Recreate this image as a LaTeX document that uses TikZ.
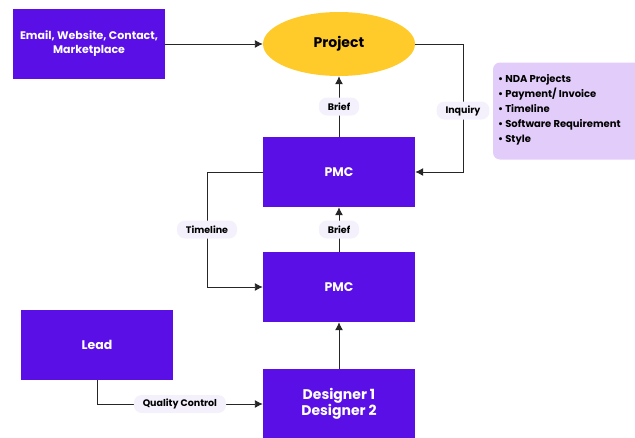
\documentclass[tikz,border=0pt]{standalone}
\usepackage{fontspec}
\setmainfont{Poppins}
\usepackage{tikz}
\usetikzlibrary{calc,arrows.meta,shapes.geometric}
\definecolor{pmcpurple}{HTML}{5A0FE6}
\definecolor{projyellow}{HTML}{FFCB2B}
\definecolor{tagfill}{HTML}{F4F1FD}
\definecolor{notefill}{HTML}{E2CDFA}

\begin{document}
\begin{tikzpicture}[x=1pt,y=-1pt,
    box/.style={rectangle,fill=pmcpurple,text=white,minimum width=152pt,minimum height=70pt,inner sep=0pt,align=center,font=\bfseries\fontsize{12.5}{15}\selectfont},
    tag/.style={rectangle,rounded corners=8pt,fill=tagfill,inner xsep=9pt,inner ysep=0pt,minimum height=18pt,font=\bfseries\fontsize{9.5}{11}\selectfont},
    link/.style={draw=black!85,line width=0.9pt,-{Latex[length=8pt,width=8pt]}}]
\useasboundingbox (0,0) rectangle (635,437);
\node[box,font=\bfseries\fontsize{11}{14}\selectfont](src)at(89,44){Email, Website, Contact,\\Marketplace};
\node[ellipse,fill=projyellow,minimum width=152pt,minimum height=64pt,inner sep=0pt,font=\bfseries\fontsize{14}{16}\selectfont](proj)at(339,44){Project};
\node[box](pmcA)at(339,172){PMC};
\node[box](pmcB)at(339,287){PMC};
\node[box](lead)at(97,345){Lead};
\node[box,minimum height=70pt,font=\bfseries\fontsize{14}{16}\selectfont](des)at(339,404){Designer 1\\Designer 2};
\node[rectangle,rounded corners=7pt,fill=notefill,minimum width=150pt,minimum height=97pt](note)at(568,111){};
\node[anchor=west,align=left,inner sep=0pt,font=\bfseries\fontsize{10}{15}\selectfont](items)at(498,110){%
  \textbullet\ NDA Projects\\\textbullet\ Payment/ Invoice\\\textbullet\ Timeline\\\textbullet\ Software Requirement\\\textbullet\ Style};
% connectors
\draw[link] (src.east)--(proj.west);
\draw[link] (pmcA.north)--(proj.south) node[tag,midway]{Brief};
\draw[link] (proj.east)--(463,44)--(463,172) node[tag,pos=0.52]{Inquiry} --(pmcA.east);
\draw[link] (pmcB.north)--(pmcA.south) node[tag,midway]{Brief};
\draw[link] (pmcA.west)--(207,172)--(207,287) node[tag,midway]{Timeline} --(pmcB.west);
\draw[link] (des.north)--(pmcB.south);
\draw[link] (lead.south)--(97,404)--(des.west) node[tag,pos=0.5]{Quality Control};
\end{tikzpicture}
\end{document}
